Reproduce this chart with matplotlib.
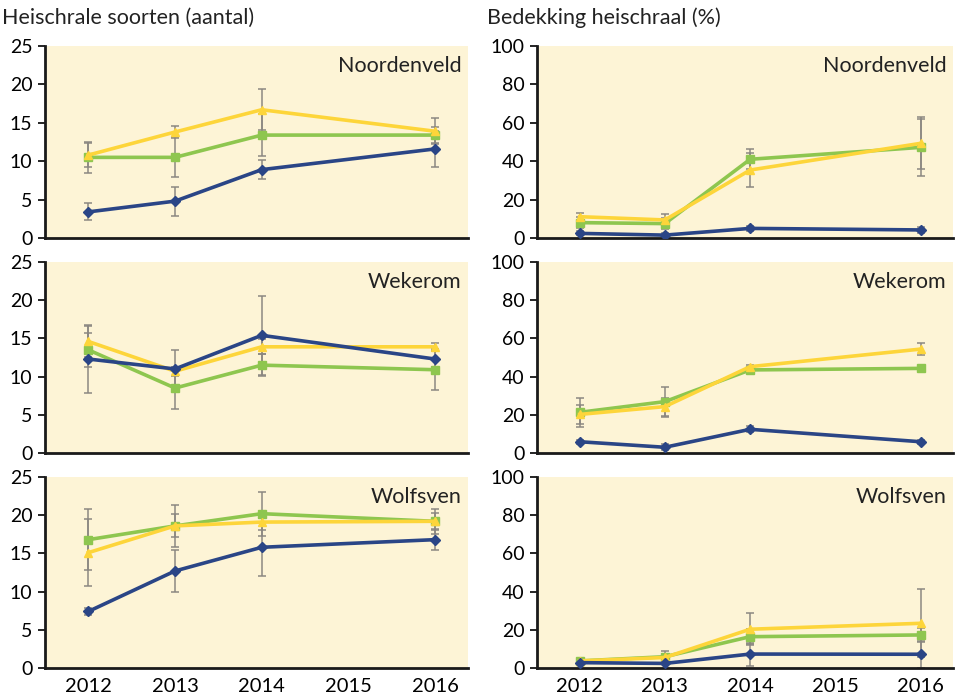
import matplotlib
matplotlib.use("Agg")
import matplotlib.pyplot as plt

plt.rcParams['font.family'] = ['Lato', 'DejaVu Sans']

years = [2012, 2013, 2014, 2016]
sites = ["Noordenveld", "Wekerom", "Wolfsven"]

# Left column: number of species (aantal)
soorten_blue = {"Noordenveld": [3.4, 4.8, 8.9, 11.6],
                "Wekerom": [12.3, 11.0, 15.4, 12.3],
                "Wolfsven": [7.4, 12.7, 15.8, 16.8]}
soorten_blue_err = {"Noordenveld": [1.1, 1.9, 1.2, 2.3],
                    "Wekerom": [4.4, 2.5, 5.2, 1.0],
                    "Wolfsven": [0.4, 2.7, 3.8, 1.4]}
soorten_green = {"Noordenveld": [10.5, 10.5, 13.4, 13.4],
                 "Wekerom": [13.5, 8.5, 11.5, 10.9],
                 "Wolfsven": [16.8, 18.6, 20.2, 19.2]}
soorten_green_err = {"Noordenveld": [2.0, 2.6, 2.7, 1.0],
                     "Wekerom": [2.2, 2.7, 1.4, 2.7],
                     "Wolfsven": [4.0, 2.8, 2.9, 1.6]}
soorten_yellow = {"Noordenveld": [10.8, 13.8, 16.7, 13.9],
                  "Wekerom": [14.6, 10.7, 13.9, 13.9],
                  "Wolfsven": [15.1, 18.6, 19.1, 19.2]}
soorten_yellow_err = {"Noordenveld": [1.6, 0.8, 2.7, 1.7],
                      "Wekerom": [2.0, 0.6, 1.0, 0.5],
                      "Wolfsven": [4.4, 1.5, 1.0, 1.1]}

# Right column: cover (%)
bedekking_blue = {"Noordenveld": [2.4, 1.5, 5.0, 4.2],
                  "Wekerom": [5.9, 3.0, 12.4, 5.9],
                  "Wolfsven": [2.8, 2.4, 7.3, 7.2]}
bedekking_blue_err = {"Noordenveld": [1.0, 1.0, 1.5, 1.5],
                      "Wekerom": [1.0, 1.5, 1.5, 1.0],
                      "Wolfsven": [0.5, 0.5, 6.0, 7.0]}
bedekking_green = {"Noordenveld": [8.0, 7.5, 41.0, 47.2],
                   "Wekerom": [21.3, 26.9, 43.5, 44.3],
                   "Wolfsven": [3.7, 5.9, 16.4, 17.3]}
bedekking_green_err = {"Noordenveld": [3.0, 3.0, 5.2, 14.7],
                       "Wekerom": [7.7, 7.8, 1.0, 1.0],
                       "Wolfsven": [1.0, 3.2, 4.0, 3.5]}
bedekking_yellow = {"Noordenveld": [11.1, 9.4, 35.4, 49.3],
                    "Wekerom": [20.2, 24.3, 45.2, 54.4],
                    "Wolfsven": [3.7, 5.5, 20.3, 23.4]}
bedekking_yellow_err = {"Noordenveld": [2.1, 3.1, 8.7, 13.5],
                        "Wekerom": [5.0, 4.7, 1.0, 3.0],
                        "Wolfsven": [1.0, 2.0, 8.3, 17.8]}

xticks = [2012, 2013, 2014, 2015, 2016]
left_ticks = [0, 5, 10, 15, 20, 25]
right_ticks = [0, 20, 40, 60, 80, 100]

BLUE = "#2a4586"
GREEN = "#8ec64f"
YELLOW = "#fdd53a"
BG = "#fdf4d6"
ERR = "#8a8680"

fig = plt.figure(figsize=(9.55, 7.0), dpi=100)

W, H = 955.0, 700.0
rows = [(46, 238), (262, 453), (477, 668)]
cols = [(45, 468), (537, 953)]

def make_ax(c, r):
    x0, x1 = cols[c]
    y0, y1 = rows[r]
    return fig.add_axes([x0 / W, 1 - y1 / H, (x1 - x0) / W, (y1 - y0) / H])

def draw(ax, vals, errs, color, marker, ms):
    ax.errorbar(years, vals, yerr=errs, fmt='none', ecolor=ERR, elinewidth=1.2,
                capsize=3, capthick=1.2, zorder=2, alpha=0.9)
    ax.plot(years, vals, color=color, lw=2.6, marker=marker, ms=ms,
            zorder=3, solid_joinstyle='round')

for r, site in enumerate(sites):
    for c in range(2):
        ax = make_ax(c, r)
        ax.set_facecolor(BG)
        if c == 0:
            draw(ax, soorten_green[site], soorten_green_err[site], GREEN, 's', 6)
            draw(ax, soorten_yellow[site], soorten_yellow_err[site], YELLOW, '^', 6)
            draw(ax, soorten_blue[site], soorten_blue_err[site], BLUE, 'D', 5.5)
            ax.set_ylim(0, 25)
            ax.set_yticks(left_ticks)
        else:
            draw(ax, bedekking_green[site], bedekking_green_err[site], GREEN, 's', 6)
            draw(ax, bedekking_yellow[site], bedekking_yellow_err[site], YELLOW, '^', 6)
            draw(ax, bedekking_blue[site], bedekking_blue_err[site], BLUE, 'D', 5.5)
            ax.set_ylim(0, 100)
            ax.set_yticks(right_ticks)
        ax.set_xlim(2011.5, 2016.38)
        ax.set_xticks(xticks)
        if r == 2:
            ax.set_xticklabels([str(x) for x in xticks])
        else:
            ax.set_xticklabels([])
        ax.tick_params(axis='x', length=0, labelsize=14.5, pad=7)
        ax.tick_params(axis='y', length=5, width=1.2, labelsize=14, pad=4, direction='out')
        for s in ['top', 'right']:
            ax.spines[s].set_visible(False)
        for s in ['left', 'bottom']:
            ax.spines[s].set_linewidth(2)
            ax.spines[s].set_color('#1a1a1a')
        ax.text(0.985, 0.95, site, transform=ax.transAxes, ha='right', va='top',
                fontsize=15.5, color='#222222')

fig.text(2 / W, 1 - 18 / H, "Heischrale soorten (aantal)", fontsize=15.5,
         va='center', ha='left', color='#222222')
fig.text(487 / W, 1 - 18 / H, "Bedekking heischraal (%)", fontsize=15.5,
         va='center', ha='left', color='#222222')

fig.savefig("out.png", dpi=100)
